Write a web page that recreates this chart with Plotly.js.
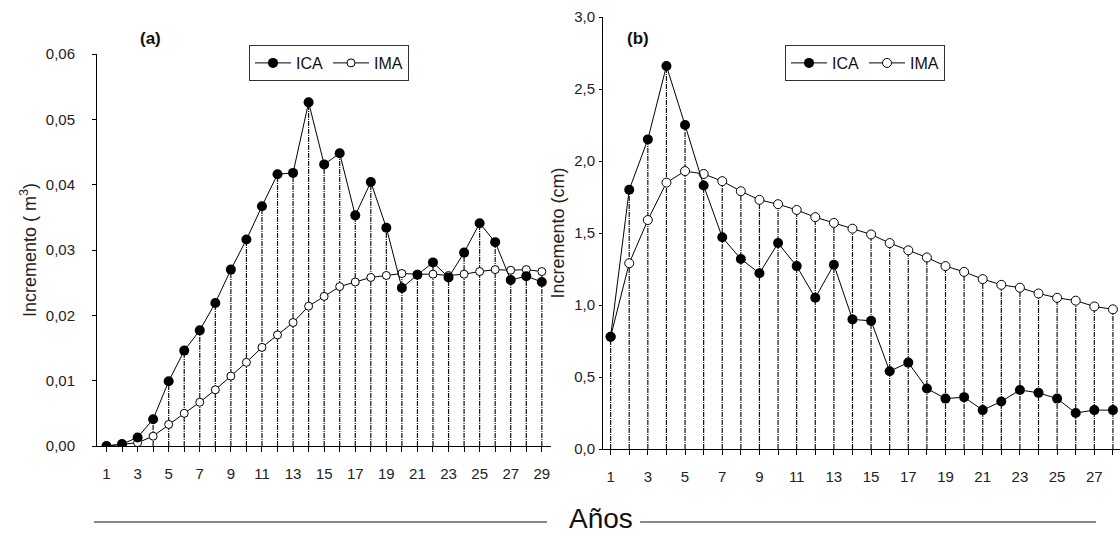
<!DOCTYPE html>
<html>
<head>
<meta charset="utf-8">
<script src="https://cdn.plot.ly/plotly-3.0.1.min.js"></script>
<style>html,body{margin:0;padding:0;background:#fff;}#chart{width:1120px;height:548px;}</style>
</head>
<body>
<div id="chart"></div>
<script>
// Panel (a): volume increment (m3)
const yearsA = [1,2,3,4,5,6,7,8,9,10,11,12,13,14,15,16,17,18,19,20,21,22,23,24,25,26,27,28,29];
const icaA = [0.0000,0.0003,0.0013,0.0041,0.0099,0.0146,0.0177,0.0219,0.0270,0.0316,0.0367,0.0416,0.0418,0.0526,0.0431,0.0448,0.0353,0.0404,0.0334,0.0242,0.0262,0.0281,0.0258,0.0296,0.0341,0.0312,0.0254,0.0260,0.0251];
const imaA = [0.0000,0.0002,0.0005,0.0015,0.0033,0.0050,0.0067,0.0086,0.0107,0.0128,0.0151,0.0170,0.0189,0.0214,0.0229,0.0244,0.0251,0.0258,0.0261,0.0264,0.0263,0.0263,0.0261,0.0263,0.0267,0.0270,0.0269,0.0270,0.0267];

// Panel (b): diameter increment (cm)
const yearsB = [1,2,3,4,5,6,7,8,9,10,11,12,13,14,15,16,17,18,19,20,21,22,23,24,25,26,27,28];
const icaB = [0.78,1.80,2.15,2.66,2.25,1.83,1.47,1.32,1.22,1.43,1.27,1.05,1.28,0.90,0.89,0.54,0.60,0.42,0.35,0.36,0.27,0.33,0.41,0.39,0.35,0.25,0.27,0.27];
const imaB = [0.78,1.29,1.59,1.85,1.93,1.91,1.86,1.79,1.73,1.70,1.66,1.61,1.57,1.53,1.49,1.43,1.38,1.33,1.27,1.23,1.18,1.14,1.12,1.08,1.05,1.03,0.99,0.97];

const seriesNames = ['ICA', 'IMA'];
const panelLabels = ['(a)', '(b)'];
const yTitles = ['Incremento ( m<sup>3</sup>)', 'Incremento (cm)'];
const xTitle = 'Años';

function oddLabels(years){ return years.map(y => (y % 2 === 1 ? String(y) : '')); }
function dropLines(years, a, b){
  const x = [], y = [];
  years.forEach((yr, i) => { x.push(yr, yr, null); y.push(0, Math.max(a[i], b[i]), null); });
  return {x, y};
}

const FONT = 'Liberation Sans, Arial, sans-serif';
const dropStyle = {color:'#111', width:1.2, dash:'5px,1px,1px,1px'};

const dA = dropLines(yearsA, icaA, imaA);
const dB = dropLines(yearsB, icaB, imaB);

const traces = [
  {x:dA.x, y:dA.y, xaxis:'x', yaxis:'y', mode:'lines', line:dropStyle, showlegend:false, hoverinfo:'skip'},
  {x:dB.x, y:dB.y, xaxis:'x2', yaxis:'y2', mode:'lines', line:dropStyle, showlegend:false, hoverinfo:'skip'},
  {x:yearsA, y:imaA, xaxis:'x', yaxis:'y', name:seriesNames[1], mode:'lines+markers', legend:'legend', legendrank:2,
   line:{color:'#000', width:1}, marker:{symbol:'circle', size:8, color:'#fff', line:{color:'#000', width:1}}},
  {x:yearsA, y:icaA, xaxis:'x', yaxis:'y', name:seriesNames[0], mode:'lines+markers', legend:'legend', legendrank:1,
   line:{color:'#000', width:1}, marker:{symbol:'circle', size:10, color:'#000'}},
  {x:yearsB, y:imaB, xaxis:'x2', yaxis:'y2', name:seriesNames[1], mode:'lines+markers', legend:'legend2', legendrank:2,
   line:{color:'#000', width:1}, marker:{symbol:'circle', size:9, color:'#fff', line:{color:'#000', width:1}}},
  {x:yearsB, y:icaB, xaxis:'x2', yaxis:'y2', name:seriesNames[0], mode:'lines+markers', legend:'legend2', legendrank:1,
   line:{color:'#000', width:1}, marker:{symbol:'circle', size:10, color:'#000'}}
];

const W = 1120, H = 548;
const px = v => v / W;
const py = v => (H - v) / H;

const axisCommon = {showline:true, linecolor:'#000', linewidth:1, showgrid:false, zeroline:false,
  ticks:'outside', tickcolor:'#000', tickfont:{family:FONT, size:15, color:'#222'}};

const legendCommon = {orientation:'h', bordercolor:'#333', borderwidth:1, bgcolor:'#fff',
  font:{family:FONT, size:16, color:'#111'}, itemwidth:36, xanchor:'left', yanchor:'middle', traceorder:'normal', itemclick:false};

const titleFont = {family:FONT, size:18, color:'#222'};

const layout = {
  width:W, height:H, margin:{l:0, r:0, t:0, b:0},
  paper_bgcolor:'#fff', plot_bgcolor:'#fff',
  separators:',.',
  font:{family:FONT, color:'#222'},
  showlegend:true,
  xaxis:Object.assign({}, axisCommon, {domain:[px(97), px(551)], range:[0.39, 29.59], anchor:'y',
    tickvals:yearsA, ticktext:oddLabels(yearsA), ticklen:5, ticklabelstandoff:9}),
  yaxis:Object.assign({}, axisCommon, {domain:[py(446), py(54)], range:[0, 0.06], anchor:'x',
    dtick:0.01, tickformat:'.2f', ticklen:4, ticklabelstandoff:14,
    title:{text:yTitles[0], font:titleFont, standoff:4}}),
  xaxis2:Object.assign({}, axisCommon, {domain:[px(603), 1], range:[0.59, 28.38], anchor:'y2',
    tickvals:yearsB, ticktext:oddLabels(yearsB), ticklen:5, ticklabelstandoff:9}),
  yaxis2:Object.assign({}, axisCommon, {domain:[py(449), py(17)], range:[0, 3.0], anchor:'x2',
    dtick:0.5, tickformat:'.1f', ticklen:3, ticklabelstandoff:1,
    title:{text:yTitles[1], font:titleFont, standoff:4}}),
  legend:Object.assign({}, legendCommon, {x:px(249), y:py(63)}),
  legend2:Object.assign({}, legendCommon, {x:px(785), y:py(63)}),
  annotations:[
    {xref:'paper', yref:'paper', x:px(138), y:py(27), text:'<b>'+panelLabels[0]+'</b>', showarrow:false,
     font:{family:FONT, size:17, color:'#111'}},
    {xref:'paper', yref:'paper', x:px(638), y:py(27), text:'<b>'+panelLabels[1]+'</b>', showarrow:false,
     font:{family:FONT, size:17, color:'#111'}},
    {xref:'paper', yref:'paper', x:px(601), y:py(518), yanchor:'middle', text:xTitle, showarrow:false,
     font:{family:FONT, size:28, color:'#111'}}
  ],
  shapes:[
    {type:'line', xref:'paper', yref:'paper', x0:px(94), x1:px(547), y0:py(522), y1:py(522), line:{color:'#111', width:1}},
    {type:'line', xref:'paper', yref:'paper', x0:px(640), x1:px(1096), y0:py(522), y1:py(522), line:{color:'#111', width:1}}
  ]
};

Plotly.newPlot('chart', traces, layout, {staticPlot:true, displayModeBar:false});
</script>
</body>
</html>
